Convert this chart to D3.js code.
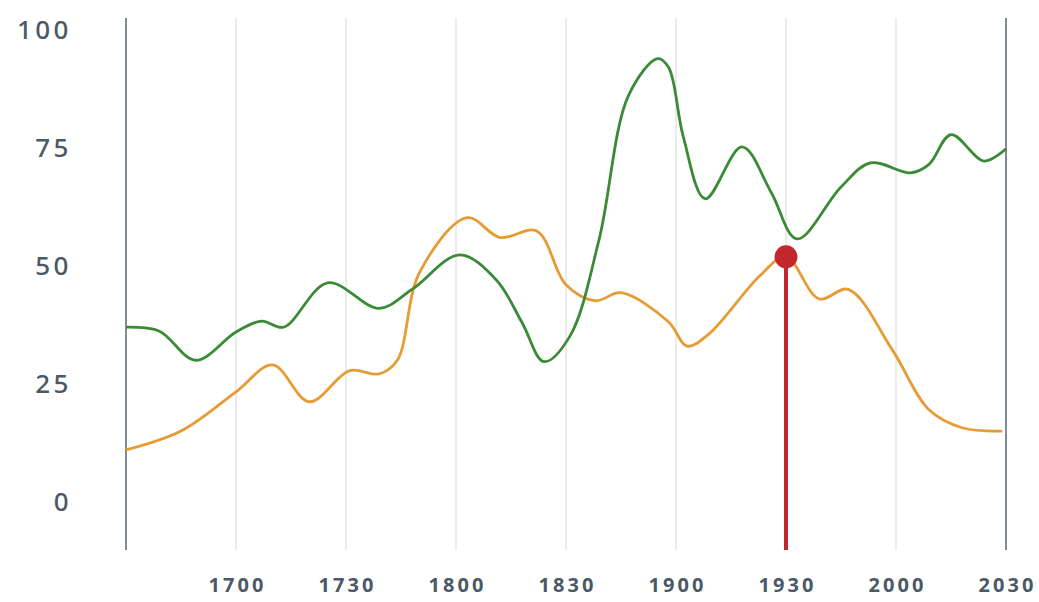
<!DOCTYPE html>
<html>
<head>
<meta charset="utf-8">
<script src="https://cdn.jsdelivr.net/npm/d3@7"></script>
<style>
  body { margin: 0; background: #fff; }
  svg text { font-family: "Noto Sans", "Open Sans", sans-serif; fill: #4b5966; }
  .y-label { font-size: 26px; font-weight: 500; letter-spacing: 3.5px; }
  .x-label { font-size: 20px; font-weight: bold; letter-spacing: 3px; }
</style>
</head>
<body>
<div id="chart"></div>
<script>
// times of day, drawn as "HHMM"
const greenTimes = ["16:30","16:39","16:49","17:00","17:07","17:13","17:25","17:39","17:48",
  "18:01","18:11","18:18","18:24","18:31","18:39","18:47","18:55","18:58",
  "19:02","19:08","19:18","19:26","19:33","19:45","19:53","20:04","20:09","20:15","20:24","20:30"];
const greenValues = [37, 36.2, 30, 36, 38.3, 37, 46.4, 41, 45,
  52.3, 47, 38, 29.7, 35, 55.5, 86, 93.9, 92,
  77.3, 64.2, 75.2, 65.5, 55.7, 66.7, 71.8, 69.7, 71.5, 77.8, 72.2, 74.8];

const orangeTimes = ["16:30","16:45","17:00","17:10","17:20","17:31","17:39","17:44","17:50",
  "18:03","18:12","18:22","18:30","18:38","18:45","18:58","19:03","19:09","19:23","19:30",
  "19:39","19:47","19:59","20:09","20:18","20:29"];
const orangeValues = [11, 15, 23.3, 29, 21.2, 27.8, 27.1, 30, 48.5,
  60.2, 56, 57.4, 46, 42.6, 44.3, 38.1, 33, 35.6, 48, 51.9,
  43, 45, 32.2, 19.5, 15.7, 15];

const highlightTime = "19:30";
const highlightValue = 51.9;

const xTickTimes = ["17:00","17:30","18:00","18:30","19:00","19:30","20:00","20:30"];
const yTicks = [0, 25, 50, 75, 100];

const width = 1039, height = 602;
const parse = d3.timeParse("%H:%M");

const x = d3.scaleTime()
  .domain([parse("16:30"), parse("20:30")])
  .range([126, 1006]);
const y = d3.scaleLinear()
  .domain([-10.2, 102.5])
  .range([550, 18]);

const svg = d3.select("#chart").append("svg")
  .attr("width", width)
  .attr("height", height);

// vertical grid
svg.append("g")
  .selectAll("line")
  .data(xTickTimes.slice(0, -1))
  .join("line")
  .attr("x1", d => x(parse(d)))
  .attr("x2", d => x(parse(d)))
  .attr("y1", y(102.5))
  .attr("y2", y(-10.2))
  .attr("stroke", "#ebebeb")
  .attr("stroke-width", 2);

// left and right borders
svg.append("g")
  .selectAll("line")
  .data([x.domain()[0], x.domain()[1]])
  .join("line")
  .attr("x1", d => x(d))
  .attr("x2", d => x(d))
  .attr("y1", y(102.5))
  .attr("y2", y(-10.2))
  .attr("stroke", "#7f8b95")
  .attr("stroke-width", 2);

// y labels
svg.append("g")
  .selectAll("text")
  .data(yTicks)
  .join("text")
  .attr("class", "y-label")
  .attr("x", 72)
  .attr("y", d => y(d) + 9.5)
  .attr("text-anchor", "end")
  .text(d => d);

// x labels
svg.append("g")
  .selectAll("text")
  .data(xTickTimes)
  .join("text")
  .attr("class", "x-label")
  .attr("x", d => x(parse(d)) + 1.5)
  .attr("y", 592)
  .attr("text-anchor", "middle")
  .text(d => d3.timeFormat("%H%M")(parse(d)));

const line = d3.line()
  .x(d => x(d.t))
  .y(d => y(d.v))
  .curve(d3.curveCatmullRom.alpha(0.5));

const green = greenTimes.map((t, i) => ({ t: parse(t), v: greenValues[i] }));
const orange = orangeTimes.map((t, i) => ({ t: parse(t), v: orangeValues[i] }));

svg.append("path")
  .datum(orange)
  .attr("d", line)
  .attr("fill", "none")
  .attr("stroke", "#e69b35")
  .attr("stroke-width", 2.8);

svg.append("path")
  .datum(green)
  .attr("d", line)
  .attr("fill", "none")
  .attr("stroke", "#3a8a36")
  .attr("stroke-width", 2.8);

// highlight marker
const hx = x(parse(highlightTime));
svg.append("line")
  .attr("x1", hx).attr("x2", hx)
  .attr("y1", y(highlightValue))
  .attr("y2", y(-10.2))
  .attr("stroke", "#c1272d")
  .attr("stroke-width", 4);
svg.append("circle")
  .attr("cx", hx)
  .attr("cy", y(highlightValue))
  .attr("r", 11.5)
  .attr("fill", "#c1272d");
</script>
</body>
</html>
